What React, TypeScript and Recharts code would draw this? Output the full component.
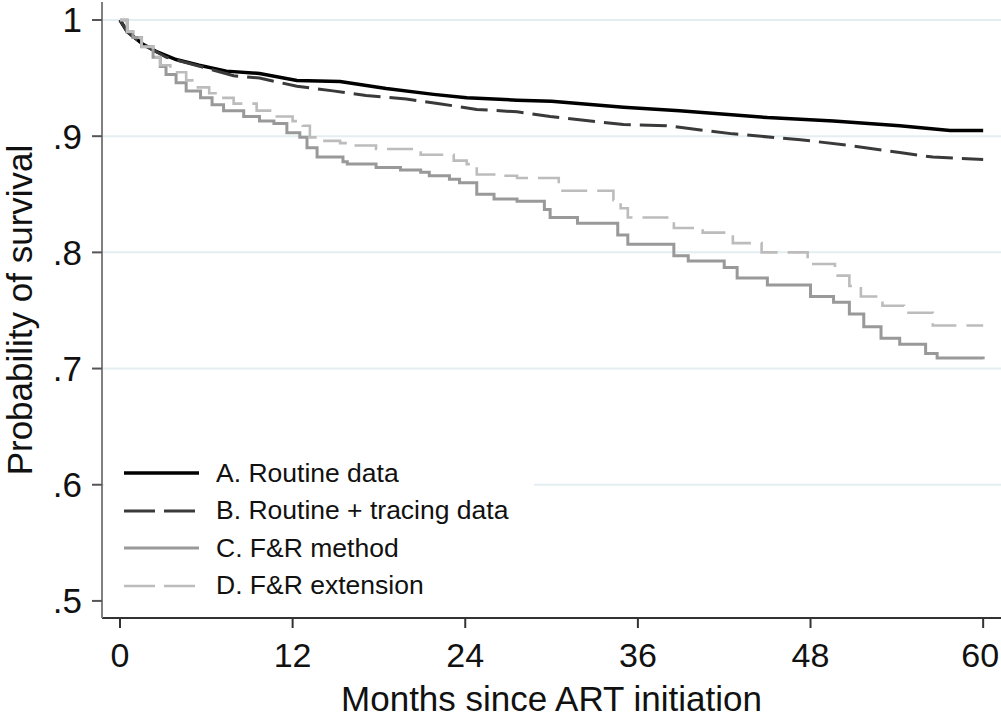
import { LineChart, Line, XAxis, YAxis, CartesianGrid, Label } from "recharts";

// ─── Data ────────────────────────────────────────────────────────────────────

const monthsA = [0, 0.5, 1, 1.6, 2.5, 3.9, 5.5, 7.4, 9.7, 12.3, 15.3, 18.5, 21.8, 24.1, 27.6, 30, 35, 38.9, 45, 49.6, 54.2, 57.7, 60];
const survA = [1, 0.99, 0.985, 0.979, 0.973, 0.966, 0.961, 0.956, 0.954, 0.948, 0.947, 0.941, 0.936, 0.933, 0.931, 0.93, 0.925, 0.922, 0.916, 0.913, 0.909, 0.905, 0.905];

const monthsB = [0, 0.5, 1, 1.6, 3.2, 5.6, 7.9, 9.7, 12.3, 14.8, 17.1, 19.9, 22.2, 24.8, 27.6, 29.9, 35, 38, 42.6, 47.3, 50.7, 54.2, 56.5, 60];
const survB = [1, 0.99, 0.985, 0.979, 0.968, 0.96, 0.952, 0.95, 0.943, 0.939, 0.935, 0.932, 0.928, 0.923, 0.921, 0.917, 0.91, 0.909, 0.902, 0.897, 0.892, 0.886, 0.882, 0.88];

const monthsC = [0, 0.5, 0.9, 1.5, 2.3, 2.8, 3.2, 3.9, 4.6, 5.6, 6.4, 7.2, 8.6, 9.7, 10.7, 11.6, 12.5, 13, 13.7, 15.5, 15.8, 17.8, 19.5, 20.9, 21.5, 22.9, 23.6, 24.8, 26, 27.6, 29.5, 29.9, 31.8, 34.6, 35.3, 38.5, 39.5, 42, 42.9, 45, 48, 49.6, 50.7, 51.7, 52.9, 54.2, 56, 56.8, 60];
const survC = [1, 0.99, 0.985, 0.977, 0.968, 0.96, 0.953, 0.946, 0.939, 0.933, 0.927, 0.922, 0.917, 0.913, 0.911, 0.903, 0.899, 0.89, 0.882, 0.878, 0.876, 0.873, 0.871, 0.869, 0.866, 0.863, 0.86, 0.85, 0.846, 0.844, 0.837, 0.83, 0.825, 0.815, 0.807, 0.797, 0.7925, 0.787, 0.778, 0.772, 0.762, 0.757, 0.747, 0.736, 0.726, 0.721, 0.713, 0.709, 0.708];

const monthsD = [0, 0.5, 0.9, 1.5, 2.3, 2.8, 3.5, 4.6, 5.3, 6.2, 7, 7.9, 9.5, 10.9, 12, 12.7, 13.2, 13.7, 15.3, 15.8, 17.8, 20.4, 20.9, 23.2, 24.1, 24.8, 26.2, 27.6, 30.5, 34.3, 34.8, 35.3, 38.5, 40.5, 42.6, 44.6, 47.8, 49.7, 50.7, 51.5, 53, 54.5, 56.5, 60];
const survD = [1, 0.99, 0.985, 0.977, 0.968, 0.961, 0.955, 0.948, 0.942, 0.937, 0.933, 0.928, 0.922, 0.917, 0.913, 0.909, 0.899, 0.896, 0.894, 0.892, 0.889, 0.886, 0.884, 0.879, 0.876, 0.867, 0.866, 0.864, 0.853, 0.845, 0.838, 0.83, 0.821, 0.817, 0.808, 0.8, 0.79, 0.78, 0.771, 0.762, 0.754, 0.748, 0.737, 0.737];

const xTicks = [0, 12, 24, 36, 48, 60];
const yTicks = [0.5, 0.6, 0.7, 0.8, 0.9, 1];
const gridValues = [0.6, 0.7, 0.8, 0.9, 1];

const seriesNames = ["A. Routine data", "B. Routine + tracing data", "C. F&R method", "D. F&R extension"];

// ─── Styling ────────────────────────────────────────────────────────────────

const FONT = "'Liberation Sans', Arial, Helvetica, sans-serif";

const toRows = (ms: number[], vs: number[]) => ms.map((m, i) => ({ m, v: vs[i] }));

const SERIES = [
  { name: seriesNames[0], data: toRows(monthsA, survA), stroke: "#000", width: 3.5, dash: undefined, type: "linear" },
  { name: seriesNames[1], data: toRows(monthsB, survB), stroke: "#3a3a3a", width: 3, dash: "27 9", type: "linear" },
  { name: seriesNames[2], data: toRows(monthsC, survC), stroke: "#999", width: 3, dash: undefined, type: "stepAfter" },
  { name: seriesNames[3], data: toRows(monthsD, survD), stroke: "#bcbcbc", width: 2.6, dash: "26 10", type: "stepAfter" },
] as const;

const fmtY = (v: number) => (v === 1 ? "1" : String(v).replace(/^0/, ""));

// x tick label; the last one is nudged in so it stays inside the frame
function XTick({ x, y, payload }: any) {
  const last = payload.value === xTicks[xTicks.length - 1];
  return (
    <text
      x={last ? x - 3 : x}
      y={y}
      dy="0.71em"
      textAnchor="middle"
      fontFamily={FONT}
      fontSize={34}
      fill="#111"
    >
      {payload.value}
    </text>
  );
}

function YTitle({ viewBox }: any) {
  const cy = viewBox.y + viewBox.height / 2;
  return (
    <text
      x={32}
      y={cy}
      transform={`rotate(-90 32 ${cy})`}
      textAnchor="middle"
      fontFamily={FONT}
      fontSize={35}
      fill="#111"
    >
      Probability of survival
    </text>
  );
}

function LegendBox() {
  return (
    <div
      style={{
        position: "absolute",
        left: 104,
        top: 452,
        width: 430,
        height: 150,
        background: "#fff",
        fontFamily: FONT,
        fontSize: 26.5,
        color: "#111",
      }}
    >
      {SERIES.map((s, i) => (
        <div
          key={s.name}
          style={{ position: "absolute", left: 0, top: 3 + i * 37.5, height: 36, display: "flex", alignItems: "center" }}
        >
          <svg width={112} height={36} style={{ display: "block" }}>
            <line
              x1={20}
              y1={18}
              x2={95}
              y2={18}
              stroke={s.stroke}
              strokeWidth={s.width}
              strokeDasharray={s.dash ? "31 9" : undefined}
            />
          </svg>
          <span style={{ whiteSpace: "nowrap" }}>{s.name}</span>
        </div>
      ))}
    </div>
  );
}

export default function App() {
  return (
    <div style={{ position: "absolute", left: 0, top: 0, width: 1001, height: 720, background: "#fff" }}>
      <LineChart width={1001} height={720} margin={{ top: 2, right: 0, left: 0, bottom: 0 }}>
        <CartesianGrid
          horizontal
          vertical={false}
          horizontalValues={gridValues}
          stroke="#e4eef0"
          strokeWidth={2}
        />
        <XAxis
          type="number"
          dataKey="m"
          domain={[-1.25, 61.24]}
          allowDataOverflow
          ticks={xTicks}
          height={102}
          tick={<XTick />}
          tickSize={10}
          tickMargin={15}
          tickLine={{ stroke: "#333", strokeWidth: 2 }}
          axisLine={{ stroke: "#333", strokeWidth: 2 }}
        >
          <Label
            value="Months since ART initiation"
            position="insideBottom"
            offset={9}
            style={{ fontFamily: FONT, fontSize: 35, fill: "#111" }}
          />
        </XAxis>
        <YAxis
          type="number"
          domain={[0.4853, 1.0155]}
          allowDataOverflow
          ticks={yTicks}
          tickFormatter={fmtY}
          width={102}
          tick={{ fill: "#111", fontSize: 35, fontFamily: FONT }}
          tickSize={10}
          tickMargin={10}
          tickLine={{ stroke: "#555", strokeWidth: 2 }}
          axisLine={{ stroke: "#808080", strokeWidth: 2 }}
        >
          <Label content={<YTitle />} />
        </YAxis>
        {SERIES.map((s) => (
          <Line
            key={s.name}
            data={s.data}
            dataKey="v"
            name={s.name}
            type={s.type}
            stroke={s.stroke}
            strokeWidth={s.width}
            strokeDasharray={s.dash}
            dot={false}
            activeDot={false}
            isAnimationActive={false}
          />
        ))}
      </LineChart>
      <LegendBox />
    </div>
  );
}
